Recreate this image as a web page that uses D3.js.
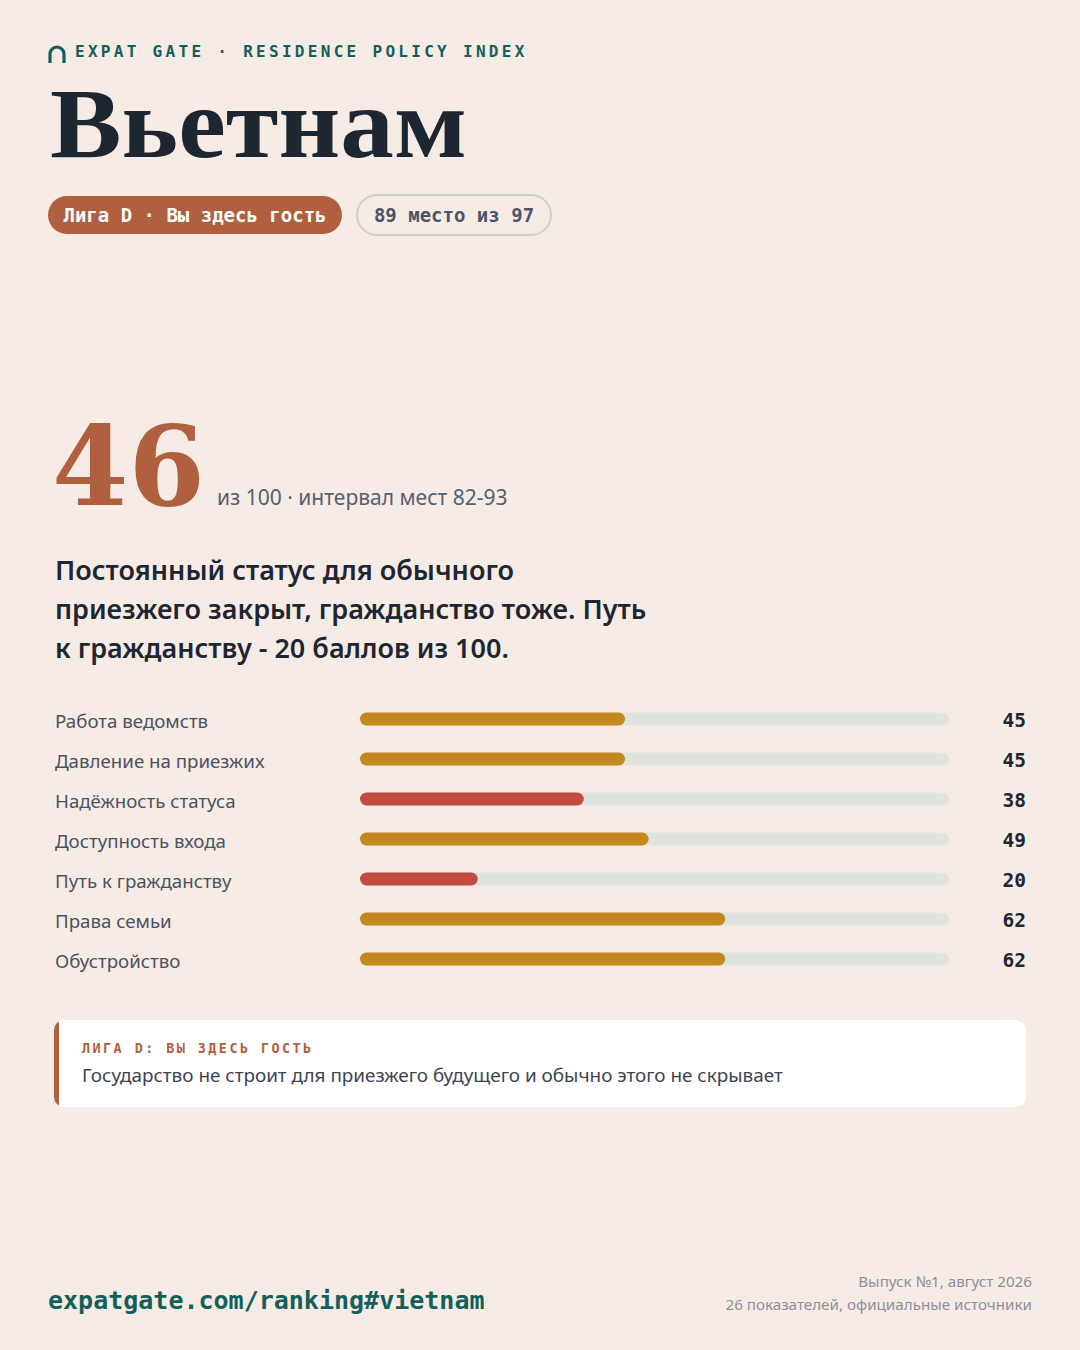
<!DOCTYPE html>
<html>
<head>
<meta charset="utf-8">
<script src="https://cdn.jsdelivr.net/npm/d3@7"></script>
<style>
  html, body { margin: 0; padding: 0; background: #f7ebe6; }
  svg { display: block; }
  .mono { font-family: "DejaVu Sans Mono", monospace; }
  .serif { font-family: "Liberation Serif", serif; }
  .serif2 { font-family: "DejaVu Serif", serif; }
  .sans { font-family: "Noto Sans", sans-serif; }
</style>
</head>
<body>
<div id="chart"></div>
<script>
const country = 'Вьетнам';
const league = 'Лига D · Вы здесь гость';
const rank = '89 место из 97';
const score = '46';
const scoreNote = 'из 100 · интервал мест 82-93';
const summary = [
  'Постоянный статус для обычного',
  'приезжего закрыт, гражданство тоже. Путь',
  'к гражданству - 20 баллов из 100.'
];
const categories = [
  'Работа ведомств',
  'Давление на приезжих',
  'Надёжность статуса',
  'Доступность входа',
  'Путь к гражданству',
  'Права семьи',
  'Обустройство'
];
const values = [45, 45, 38, 49, 20, 62, 62];
const cardTitle = 'ЛИГА D: ВЫ ЗДЕСЬ ГОСТЬ';
const cardText = 'Государство не строит для приезжего будущего и обычно этого не скрывает';
const footerUrl = 'expatgate.com/ranking#vietnam';
const footerNotes = ['Выпуск №1, август 2026', '26 показателей, официальные источники'];

const W = 1080, H = 1350;
const teal = '#12605a', terra = '#b0603f', ink = '#1e2632';

const svg = d3.select('#chart')
  .append('svg')
  .attr('width', W)
  .attr('height', H);

svg.append('rect').attr('width', W).attr('height', H).attr('fill', '#f7ebe6');

// header
svg.append('path')
  .attr('d', 'M50,63 L50,54 A7,7 0 0 1 64,54 L64,63')
  .attr('fill', 'none')
  .attr('stroke', teal)
  .attr('stroke-width', 3.2);

svg.append('text')
  .attr('class', 'mono')
  .attr('x', 75).attr('y', 57)
  .attr('font-size', 16).attr('font-weight', 700)
  .attr('letter-spacing', 3.3)
  .attr('fill', teal)
  .text('EXPAT GATE · RESIDENCE POLICY INDEX');

// title: serif, stretched a little to the reference width
svg.append('text')
  .attr('class', 'serif')
  .attr('x', 50).attr('y', 157)
  .attr('font-size', 100).attr('font-weight', 700)
  .attr('textLength', 417)
  .attr('lengthAdjust', 'spacingAndGlyphs')
  .attr('fill', ink)
  .text(country);

// pills
const pill1 = svg.append('g');
pill1.append('rect')
  .attr('x', 48).attr('y', 196).attr('width', 294).attr('height', 38).attr('rx', 19)
  .attr('fill', terra);
pill1.append('text')
  .attr('class', 'mono')
  .attr('x', 195).attr('y', 222).attr('text-anchor', 'middle')
  .attr('font-size', 19).attr('font-weight', 700)
  .attr('fill', '#fff')
  .text(league);

const pill2 = svg.append('g');
pill2.append('rect')
  .attr('x', 357).attr('y', 195).attr('width', 194).attr('height', 40).attr('rx', 20)
  .attr('fill', 'none').attr('stroke', '#c9d3cc').attr('stroke-width', 2);
pill2.append('text')
  .attr('class', 'mono')
  .attr('x', 454).attr('y', 222).attr('text-anchor', 'middle')
  .attr('font-size', 19).attr('font-weight', 700)
  .attr('fill', '#4b5565')
  .text(rank);

// score
svg.append('text')
  .attr('class', 'serif2')
  .attr('x', 52).attr('y', 505)
  .attr('font-size', 110).attr('font-weight', 700)
  .attr('fill', terra)
  .text(score);

svg.append('text')
  .attr('class', 'sans')
  .attr('x', 217).attr('y', 505)
  .attr('font-size', 21)
  .attr('fill', '#556070')
  .text(scoreNote);

svg.append('g').selectAll('text')
  .data(summary)
  .enter()
  .append('text')
  .attr('class', 'sans')
  .attr('x', 55)
  .attr('y', (d, i) => 580 + i * 39)
  .attr('font-size', 27).attr('font-weight', 600)
  .attr('fill', ink)
  .text(d => d);

// bars
const xScale = d3.scaleLinear().domain([0, 100]).range([360, 949]);
const yScale = d3.scaleBand().domain(categories).range([699, 979]).padding(0);
const barH = 13;
const color = v => v < 40 ? '#c14c3f' : '#c2891e';

const rows = svg.append('g').selectAll('g')
  .data(categories.map((c, i) => ({ cat: c, val: values[i] })))
  .enter()
  .append('g')
  .attr('transform', d => `translate(0,${yScale(d.cat) + yScale.bandwidth() / 2})`);

rows.append('text')
  .attr('class', 'sans')
  .attr('x', 55).attr('y', 8.5)
  .attr('font-size', 18.7)
  .attr('fill', '#4a5260')
  .text(d => d.cat);

rows.append('rect')
  .attr('x', xScale(0)).attr('y', -barH / 2)
  .attr('width', xScale(100) - xScale(0)).attr('height', barH)
  .attr('rx', barH / 2)
  .attr('fill', '#dfe4df');

rows.append('rect')
  .attr('x', xScale(0)).attr('y', -barH / 2)
  .attr('width', d => xScale(d.val) - xScale(0)).attr('height', barH)
  .attr('rx', barH / 2)
  .attr('fill', d => color(d.val));

rows.append('text')
  .attr('class', 'mono')
  .attr('x', 1026).attr('y', 8)
  .attr('text-anchor', 'end')
  .attr('font-size', 19.5).attr('font-weight', 700)
  .attr('fill', ink)
  .text(d => d.val);

// card
const card = svg.append('g');
card.append('rect')
  .attr('x', 54).attr('y', 1020).attr('width', 972).attr('height', 87).attr('rx', 10)
  .attr('fill', terra);
card.append('rect')
  .attr('x', 59).attr('y', 1020).attr('width', 967).attr('height', 87).attr('rx', 9)
  .attr('fill', '#fff');
card.append('rect')
  .attr('x', 59).attr('y', 1020).attr('width', 20).attr('height', 87)
  .attr('fill', '#fff');
card.append('text')
  .attr('class', 'mono')
  .attr('x', 82).attr('y', 1053)
  .attr('font-size', 13.5).attr('font-weight', 700)
  .attr('letter-spacing', 2.4)
  .attr('fill', terra)
  .text(cardTitle);
card.append('text')
  .attr('class', 'sans')
  .attr('x', 82).attr('y', 1082)
  .attr('font-size', 18.9)
  .attr('fill', '#3c4452')
  .text(cardText);

// footer
svg.append('text')
  .attr('class', 'mono')
  .attr('x', 48).attr('y', 1309)
  .attr('font-size', 25).attr('font-weight', 700)
  .attr('fill', teal)
  .text(footerUrl);

svg.append('g').selectAll('text')
  .data(footerNotes)
  .enter()
  .append('text')
  .attr('class', 'sans')
  .attr('x', 1032)
  .attr('y', (d, i) => 1287 + i * 23)
  .attr('text-anchor', 'end')
  .attr('font-size', 15.2)
  .attr('fill', '#8b9099')
  .text(d => d);
</script>
</body>
</html>
